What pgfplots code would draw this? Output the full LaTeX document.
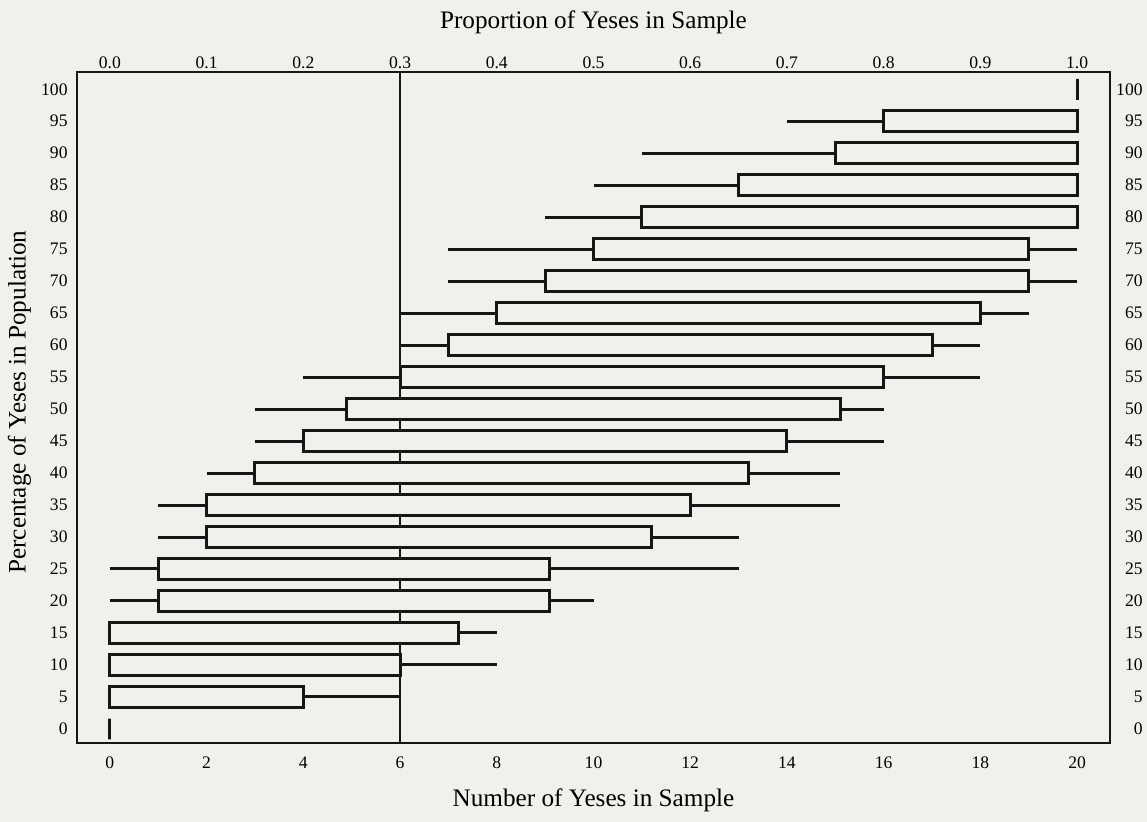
\documentclass[border=0pt]{standalone}
\usepackage{fontspec}
\setmainfont{Liberation Serif}
\usepackage{pgfplots}
\pgfplotsset{compat=1.18}
\usepgfplotslibrary{statistics}
\definecolor{paper}{RGB}{241,240,236}
\definecolor{ink}{RGB}{22,22,22}
% row: draw position, lower whisker, box left, box right, upper whisker
\newcommand{\brow}[5]{\addplot[ink, line width=1.5pt, fill=paper, line join=miter,
  boxplot prepared={draw position=#1, lower whisker=#2, lower quartile=#3,
  median=#3, upper quartile=#4, upper whisker=#5}] coordinates {};}
\begin{document}
\begin{tikzpicture}
\fill[paper] (-38.5pt,-39.5pt) rectangle (535pt,371.5pt);
\begin{axis}[
  name=main,
  scale only axis, width=516.5pt, height=335.5pt,
  xmin=-0.68, xmax=20.68, ymin=-2.2, ymax=102.7,
  axis line style={ink, line width=1.2pt},
  xtick={0,2,...,20},
  xticklabels={0,2,4,6,8,10,12,14,16,18,20},
  ytick={0,5,...,100},
  yticklabels={0,5,10,15,20,25,30,35,40,45,50,55,60,65,70,75,80,85,90,95,100},
  major tick length=0pt,
  xticklabel pos=lower, yticklabel pos=left,
  xticklabel style={anchor=center, inner sep=0pt, yshift=-10pt, font=\fontsize{8.8}{10}\selectfont},
  yticklabel style={anchor=east, inner sep=0pt, xshift=-4.5pt, font=\fontsize{8.8}{10}\selectfont},
  xlabel={Number of Yeses in Sample},
  ylabel={Percentage of Yeses in Population},
  xlabel style={at={(axis description cs:0.5,-0.0849)}, anchor=center, inner sep=0pt, font=\fontsize{12.6}{14}\selectfont},
  ylabel style={at={(axis description cs:-0.0557,0.508)}, anchor=center, inner sep=0pt, rotate=0, font=\fontsize{12.6}{14}\selectfont},
  boxplot/draw direction=x,
  boxplot/box extend=3.25,
  boxplot/whisker extend=0,
  boxplot/every whisker/.style={line width=1.5pt},
  clip=false,
]
\addplot[ink, line width=1.1pt] coordinates {(6,-2.2) (6,102.7)};
\brow{100}{20}{20}{20}{20}
\brow{95}{14}{16}{20}{20}
\brow{90}{11}{15}{20}{20}
\brow{85}{10}{13}{20}{20}
\brow{80}{9}{11}{20}{20}
\brow{75}{7}{10}{19}{20}
\brow{70}{7}{9}{19}{20}
\brow{65}{6}{8}{18}{19}
\brow{60}{6}{7}{17}{18}
\brow{55}{4}{6}{16}{18}
\brow{50}{3}{4.9}{15.1}{16}
\brow{45}{3}{4}{14}{16}
\brow{40}{2}{3}{13.2}{15.1}
\brow{35}{1}{2}{12}{15.1}
\brow{30}{1}{2}{11.2}{13}
\brow{25}{0}{1}{9.1}{13}
\brow{20}{0}{1}{9.1}{10}
\brow{15}{0}{0}{7.2}{8}
\brow{10}{0}{0}{6}{8}
\brow{5}{0}{0}{4}{6}
\brow{0}{0}{0}{0}{0}
\end{axis}
\begin{axis}[
  scale only axis, width=516.5pt, height=335.5pt,
  xmin=-0.034, xmax=1.034, ymin=-2.2, ymax=102.7,
  axis line style={ink, line width=1.2pt},
  xtick={0,0.1,...,1.0},
  xticklabels={0.0,0.1,0.2,0.3,0.4,0.5,0.6,0.7,0.8,0.9,1.0},
  ytick={0,5,...,100},
  yticklabels={0,5,10,15,20,25,30,35,40,45,50,55,60,65,70,75,80,85,90,95,100},
  major tick length=0pt,
  xticklabel pos=upper, yticklabel pos=right,
  xticklabel style={anchor=center, inner sep=0pt, yshift=4.75pt, font=\fontsize{8.8}{10}\selectfont},
  yticklabel style={anchor=east, inner sep=0pt, xshift=16.5pt, font=\fontsize{8.8}{10}\selectfont},
  xlabel={Proportion of Yeses in Sample},
  xlabel style={at={(axis description cs:0.5,1.0738)}, anchor=center, inner sep=0pt, font=\fontsize{12.6}{14}\selectfont},
]
\end{axis}
\pgfresetboundingbox
\path[use as bounding box] (-38.5pt,-39.5pt) rectangle (535pt,371.5pt);
\end{tikzpicture}
\end{document}
